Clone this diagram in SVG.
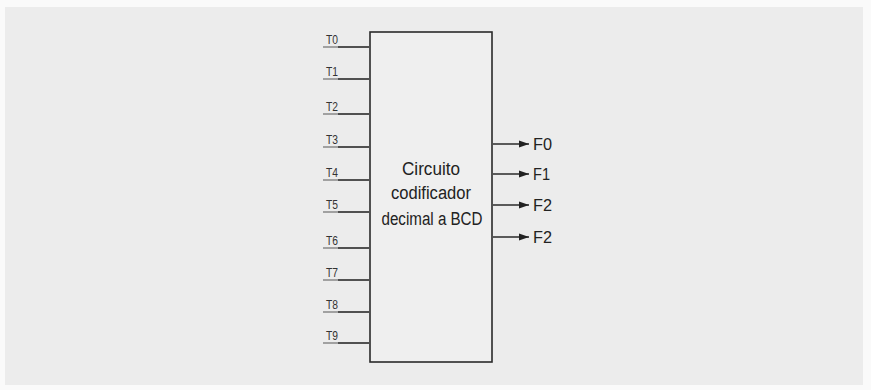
<svg xmlns="http://www.w3.org/2000/svg" width="871" height="390" viewBox="0 0 871 390">
<defs>
<marker id="ah" markerWidth="11" markerHeight="9" refX="10" refY="4.5" orient="auto" markerUnits="userSpaceOnUse">
<path d="M0,1 L10,4.5 L0,8 Z" fill="#222"/>
</marker>
<style>
.in{font-family:"Liberation Sans",Arial,sans-serif;font-size:12px;fill:#333}
.out{font-family:"Liberation Sans",Arial,sans-serif;font-size:16px;fill:#222}
.lbl{font-family:"Liberation Sans",Arial,sans-serif;font-size:18px;fill:#222}
.ul{stroke:#888;stroke-width:1.5}
.wire{stroke:#2a2a2a;stroke-width:1.6}
</style>
</defs>
<rect x="0" y="0" width="871" height="390" fill="#fafafa"/>
<rect x="5" y="7" width="858" height="378" fill="#ececec"/>
<g id="encoder">
<rect x="370" y="32" width="122" height="330" fill="#efefef" stroke="#2a2a2a" stroke-width="1.6"/>
<text class="lbl" x="431" y="175" text-anchor="middle" textLength="58" lengthAdjust="spacingAndGlyphs">Circuito</text>
<text class="lbl" x="431" y="199" text-anchor="middle" textLength="80" lengthAdjust="spacingAndGlyphs">codificador</text>
<text class="lbl" x="432" y="225" text-anchor="middle" textLength="101" lengthAdjust="spacingAndGlyphs">decimal a BCD</text>
</g>
<g id="inputs">
<text class="in" x="326" y="44" textLength="12" lengthAdjust="spacingAndGlyphs">T0</text>
<text class="in" x="326" y="76" textLength="12" lengthAdjust="spacingAndGlyphs">T1</text>
<text class="in" x="326" y="111" textLength="12" lengthAdjust="spacingAndGlyphs">T2</text>
<text class="in" x="326" y="144" textLength="12" lengthAdjust="spacingAndGlyphs">T3</text>
<text class="in" x="326" y="177" textLength="12" lengthAdjust="spacingAndGlyphs">T4</text>
<text class="in" x="326" y="209" textLength="12" lengthAdjust="spacingAndGlyphs">T5</text>
<text class="in" x="326" y="245" textLength="12" lengthAdjust="spacingAndGlyphs">T6</text>
<text class="in" x="326" y="277" textLength="12" lengthAdjust="spacingAndGlyphs">T7</text>
<text class="in" x="326" y="309" textLength="12" lengthAdjust="spacingAndGlyphs">T8</text>
<text class="in" x="326" y="340" textLength="12" lengthAdjust="spacingAndGlyphs">T9</text>
</g>
<g id="outputs">
<text class="out" x="533" y="150" textLength="19" lengthAdjust="spacingAndGlyphs">F0</text>
<text class="out" x="533" y="180" textLength="17" lengthAdjust="spacingAndGlyphs">F1</text>
<text class="out" x="533" y="211" textLength="19" lengthAdjust="spacingAndGlyphs">F2</text>
<text class="out" x="533" y="243" textLength="19" lengthAdjust="spacingAndGlyphs">F2</text>
</g>
<g id="connectors">
<g class="ul">
<line x1="323" y1="47" x2="338" y2="47"/>
<line x1="323" y1="79" x2="338" y2="79"/>
<line x1="323" y1="114" x2="338" y2="114"/>
<line x1="323" y1="147" x2="338" y2="147"/>
<line x1="323" y1="180" x2="338" y2="180"/>
<line x1="323" y1="212" x2="338" y2="212"/>
<line x1="323" y1="248" x2="338" y2="248"/>
<line x1="323" y1="280" x2="338" y2="280"/>
<line x1="323" y1="312" x2="338" y2="312"/>
<line x1="323" y1="343" x2="338" y2="343"/>
</g>
<g class="wire">
<line x1="338" y1="47" x2="369" y2="47"/>
<line x1="338" y1="79" x2="369" y2="79"/>
<line x1="338" y1="114" x2="369" y2="114"/>
<line x1="338" y1="147" x2="369" y2="147"/>
<line x1="338" y1="180" x2="369" y2="180"/>
<line x1="338" y1="212" x2="369" y2="212"/>
<line x1="338" y1="248" x2="369" y2="248"/>
<line x1="338" y1="280" x2="369" y2="280"/>
<line x1="338" y1="312" x2="369" y2="312"/>
<line x1="338" y1="343" x2="369" y2="343"/>
<line x1="493" y1="144" x2="529" y2="144" marker-end="url(#ah)"/>
<line x1="493" y1="174" x2="529" y2="174" marker-end="url(#ah)"/>
<line x1="493" y1="205" x2="529" y2="205" marker-end="url(#ah)"/>
<line x1="493" y1="237" x2="529" y2="237" marker-end="url(#ah)"/>
</g>
</g>
</svg>
